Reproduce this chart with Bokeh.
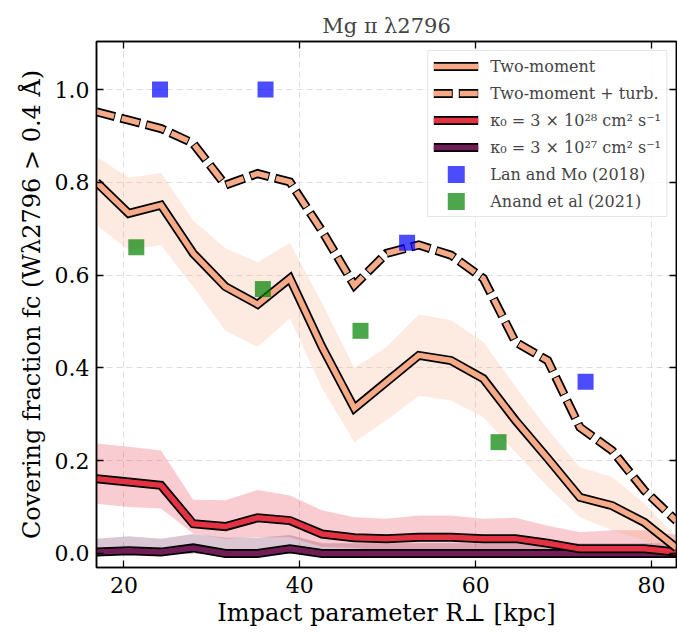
from bokeh.plotting import figure
from bokeh.models import (Range1d, LinearAxis, Legend, LegendItem, FixedTicker)
from bokeh.embed import file_html
from bokeh.resources import INLINE

# impact-parameter bin centres [kpc]
r_perp = [16.88, 20.54, 24.21, 27.87, 31.54, 35.20, 38.87, 42.53, 46.20, 49.86,
          53.53, 57.19, 60.86, 64.52, 68.19, 71.85, 75.52, 79.18, 82.84]

# two-moment model: median covering fraction and scatter band
fc_two_moment = [0.800, 0.733, 0.751, 0.647, 0.575, 0.537, 0.593, 0.445, 0.313, 0.370,
                 0.427, 0.416, 0.377, 0.287, 0.205, 0.121, 0.103, 0.067, 0.012]
fc_two_moment_lo = [0.708, 0.654, 0.665, 0.575, 0.480, 0.445, 0.507, 0.356, 0.240, 0.287,
                    0.340, 0.330, 0.294, 0.218, 0.144, 0.078, 0.050, 0.028, 0.000]
fc_two_moment_hi = [0.855, 0.810, 0.820, 0.718, 0.658, 0.628, 0.669, 0.540, 0.400, 0.445,
                    0.515, 0.503, 0.456, 0.360, 0.268, 0.186, 0.165, 0.108, 0.035]

# two-moment model with turbulence
fc_turb = [0.952, 0.934, 0.916, 0.884, 0.794, 0.819, 0.801, 0.695, 0.578, 0.647,
           0.665, 0.643, 0.593, 0.456, 0.416, 0.272, 0.222, 0.136, 0.070]

# kappa_0 = 3e28 cm^2/s
fc_k28 = [0.161, 0.154, 0.147, 0.064, 0.058, 0.077, 0.071, 0.042, 0.034, 0.032,
          0.035, 0.035, 0.032, 0.032, 0.022, 0.010, 0.010, 0.010, 0.003]
fc_k28_lo = [0.107, 0.100, 0.097, 0.043, 0.032, 0.035, 0.035, 0.014, 0.012, 0.006,
             0.008, 0.008, 0.006, 0.006, 0.000, 0.000, 0.000, 0.000, 0.000]
fc_k28_hi = [0.237, 0.230, 0.222, 0.116, 0.115, 0.137, 0.125, 0.093, 0.078, 0.075,
             0.082, 0.082, 0.075, 0.077, 0.060, 0.046, 0.050, 0.050, 0.040]

# kappa_0 = 3e27 cm^2/s
fc_k27 = [0.003, 0.006, 0.003, 0.012, 0.000, 0.000, 0.010, 0.000, 0.000, 0.000,
          0.000, 0.000, 0.000, 0.000, 0.000, 0.000, 0.000, 0.000, 0.000]
fc_k27_lo = [0.000] * 19
fc_k27_hi = [0.032, 0.037, 0.032, 0.042, 0.034, 0.034, 0.040, 0.022, 0.022, 0.022,
             0.022, 0.022, 0.022, 0.022, 0.022, 0.022, 0.022, 0.022, 0.022]

# observations
lan_r = [24.1, 36.1, 52.2, 72.5]
lan_fc = [1.00, 1.00, 0.67, 0.37]
anand_r = [21.4, 35.8, 46.9, 62.6]
anand_fc = [0.66, 0.57, 0.48, 0.24]

x_ticks = [20, 40, 60, 80]
y_ticks = [0.0, 0.2, 0.4, 0.6, 0.8, 1.0]

C_TM = "#f6aa87"
C_K28 = "#e33242"
C_K27 = "#701e55"
FONT = "DejaVu Serif"

x0, x1 = 16.875, 82.84
y0, y1 = -0.0302, 1.1036

p = figure(frame_width=580, frame_height=526,
           x_range=Range1d(x0, x1), y_range=Range1d(y0, y1),
           output_backend="svg", toolbar_location=None,
           min_border_left=96, min_border_right=1,
           min_border_top=41, min_border_bottom=68,
           background_fill_color="white", border_fill_color="white")

p.title.text = "Mg ɪɪ λ2796"
p.title.align = "center"
p.title.text_font = FONT
p.title.text_font_size = "21px"
p.title.text_font_style = "normal"
p.title.standoff = 8

p.outline_line_color = "black"
p.outline_line_width = 1.5


def style_axis(ax, ticks, show_labels):
    ax.ticker = FixedTicker(ticks=ticks)
    ax.axis_line_color = "black"
    ax.axis_line_width = 1.5
    ax.major_tick_in = 7
    ax.major_tick_out = 0
    ax.major_tick_line_color = "black"
    ax.major_tick_line_width = 1.3
    ax.minor_tick_line_color = None
    if show_labels:
        ax.major_label_text_font = FONT
        ax.major_label_text_font_size = "22px"
        ax.major_label_text_color = "black"
        ax.axis_label_text_font = FONT
        ax.axis_label_text_font_size = "24px"
        ax.axis_label_text_font_style = "normal"
        ax.axis_label_text_color = "black"
    else:
        ax.major_label_text_font_size = "1px"
        ax.major_label_text_color = None
        ax.major_label_standoff = 0


style_axis(p.xaxis[0], x_ticks, True)
style_axis(p.yaxis[0], y_ticks, True)
p.xaxis[0].major_label_standoff = 9
p.yaxis[0].major_label_standoff = 7
p.yaxis[0].major_label_overrides = {t: f"{t:.1f}" for t in y_ticks}
p.xaxis[0].axis_label = "Impact parameter R⊥ [kpc]"
p.xaxis[0].axis_label_standoff = 3
p.yaxis[0].axis_label = "Covering fraction fc (Wλ2796 > 0.4 Å)"
p.yaxis[0].axis_label_standoff = 6

top_ax = LinearAxis()
style_axis(top_ax, x_ticks, False)
p.add_layout(top_ax, "above")
right_ax = LinearAxis()
style_axis(right_ax, y_ticks, False)
p.add_layout(right_ax, "right")

for g in (p.xgrid[0], p.ygrid[0]):
    g.grid_line_color = "#c8c8c8"
    g.grid_line_alpha = 0.6
    g.grid_line_dash = "6 4"
    g.grid_line_width = 1

# scatter bands
p.varea(x=r_perp, y1=fc_k27_lo, y2=fc_k27_hi, fill_color=C_K27, fill_alpha=0.25)
p.varea(x=r_perp, y1=fc_k28_lo, y2=fc_k28_hi, fill_color=C_K28, fill_alpha=0.25)
p.varea(x=r_perp, y1=fc_two_moment_lo, y2=fc_two_moment_hi, fill_color=C_TM, fill_alpha=0.25)


def outlined(y, color, dash="solid", outer_dash="solid", offset=0):
    b = p.line(r_perp, y, line_color="black", line_width=9, line_join="miter",
               line_dash=outer_dash, line_dash_offset=offset)
    c = p.line(r_perp, y, line_color=color, line_width=5.5, line_join="miter",
               line_dash=dash)
    return [b, c]


k27 = outlined(fc_k27, C_K27)
k28 = outlined(fc_k28, C_K28)
tm = outlined(fc_two_moment, C_TM)
turb = outlined(fc_turb, C_TM, dash="18 8", outer_dash="20 6", offset=1)

lan = p.scatter(lan_r, lan_fc, marker="square", size=7, fill_alpha=0,
                line_color="blue", line_alpha=0.7, line_width=9, line_join="miter")
anand = p.scatter(anand_r, anand_fc, marker="square", size=7, fill_alpha=0,
                  line_color="green", line_alpha=0.7, line_width=9, line_join="miter")

legend = Legend(items=[
    LegendItem(label="Two-moment", renderers=tm),
    LegendItem(label="Two-moment + turb.", renderers=turb),
    LegendItem(label="κ₀ = 3 × 10²⁸ cm² s⁻¹", renderers=k28),
    LegendItem(label="κ₀ = 3 × 10²⁷ cm² s⁻¹", renderers=k27),
    LegendItem(label="Lan and Mo (2018)", renderers=[lan]),
    LegendItem(label="Anand et al (2021)", renderers=[anand]),
], location="top_right")
legend.label_text_font = FONT
legend.label_text_font_size = "16px"
legend.glyph_width = 45
legend.glyph_height = 20
legend.label_height = 20
legend.spacing = 7
legend.padding = 5
legend.margin = 9
legend.label_standoff = 12
legend.border_line_color = "#cccccc"
legend.border_line_width = 1
legend.background_fill_alpha = 0.8
p.add_layout(legend)

open("out.html", "w").write(file_html(p, INLINE))
